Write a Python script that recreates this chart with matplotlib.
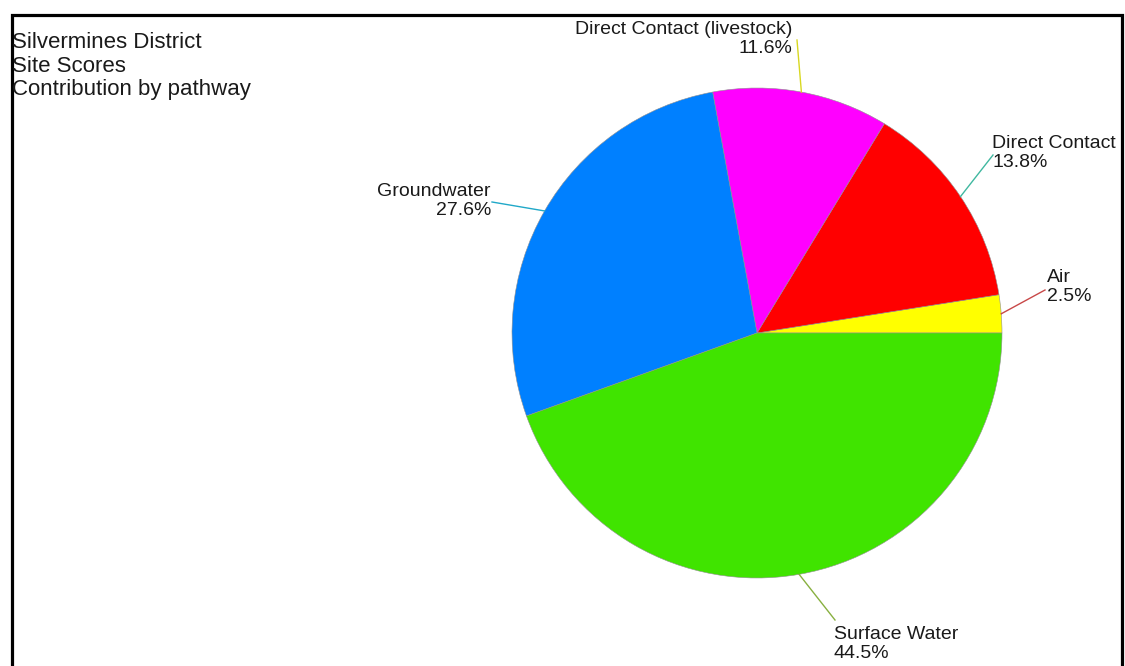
import numpy as np
import matplotlib
matplotlib.use("Agg")
import matplotlib.pyplot as plt
import matplotlib.patches as mpatches

TITLE_LINES = ["Silvermines District", "Site Scores", "Contribution by pathway"]

PATHWAYS = ["Air", "Direct Contact", "Direct Contact (livestock)",
            "Groundwater", "Surface Water"]
SHARES = [2.5, 13.8, 11.6, 27.6, 44.5]
COLORS = ["#FFFF00", "#FF0000", "#FF00FF", "#0080FF", "#40E400"]
LEADER_COLORS = ["#C84848", "#40B8A0", "#D8D820", "#20A8C8", "#88B040"]

# label anchor (end of leader line) and text placement, in pixels from top-left
W, H = 1125, 666
CENTER = (757, 333)
RADIUS = 245
LABEL_LAYOUT = [
    # line end,     text pos,     ha
    ((1045, 290), (1047, 287), "left"),
    ((993, 155),  (992, 153),  "left"),
    ((797, 40),   (792, 39),   "right"),
    ((492, 202),  (491, 201),  "right"),
    ((835, 620),  (834, 644),  "left"),
]


def px(x, y):
    return x, H - y


fig = plt.figure(figsize=(W / 100, H / 100), dpi=100)
ax = fig.add_axes([0, 0, 1, 1])
ax.set_xlim(0, W)
ax.set_ylim(0, H)
ax.axis("off")

cx, cy = px(*CENTER)
wedges, _ = ax.pie(SHARES, colors=COLORS, startangle=0, counterclock=True,
                   center=(cx, cy), radius=RADIUS,
                   wedgeprops=dict(linewidth=0.4, edgecolor="#909090"))
ax.set_aspect("equal")
ax.set_xlim(0, W)
ax.set_ylim(0, H)

for w, name, share, lc, (end, tpos, ha) in zip(
        wedges, PATHWAYS, SHARES, LEADER_COLORS, LABEL_LAYOUT):
    mid = np.deg2rad((w.theta1 + w.theta2) / 2)
    x0 = cx + RADIUS * np.cos(mid)
    y0 = cy + RADIUS * np.sin(mid)
    ex, ey = px(*end)
    ax.plot([x0, ex], [y0, ey], color=lc, linewidth=1.0)
    tx, ty = px(*tpos)
    ax.text(tx, ty, f"{name}\n{share:.1f}%", ha=ha, va="center",
            multialignment=ha, fontsize=14, family="Liberation Sans",
            color="#1a1a1a", linespacing=1.2)

tx, ty = px(12, 66)
ax.text(tx, ty, "\n".join(TITLE_LINES), ha="left", va="center",
        fontsize=16, family="Liberation Sans", color="#1a1a1a",
        linespacing=1.13)

# outer frame (bottom edge lies outside the picture)
frame = mpatches.Rectangle(px(11.5, H + 10), 1110, H - 14.5 + 10,
                           fill=False, edgecolor="black", linewidth=2.3)
ax.add_patch(frame)

fig.savefig("out.png", dpi=100, facecolor="white")
